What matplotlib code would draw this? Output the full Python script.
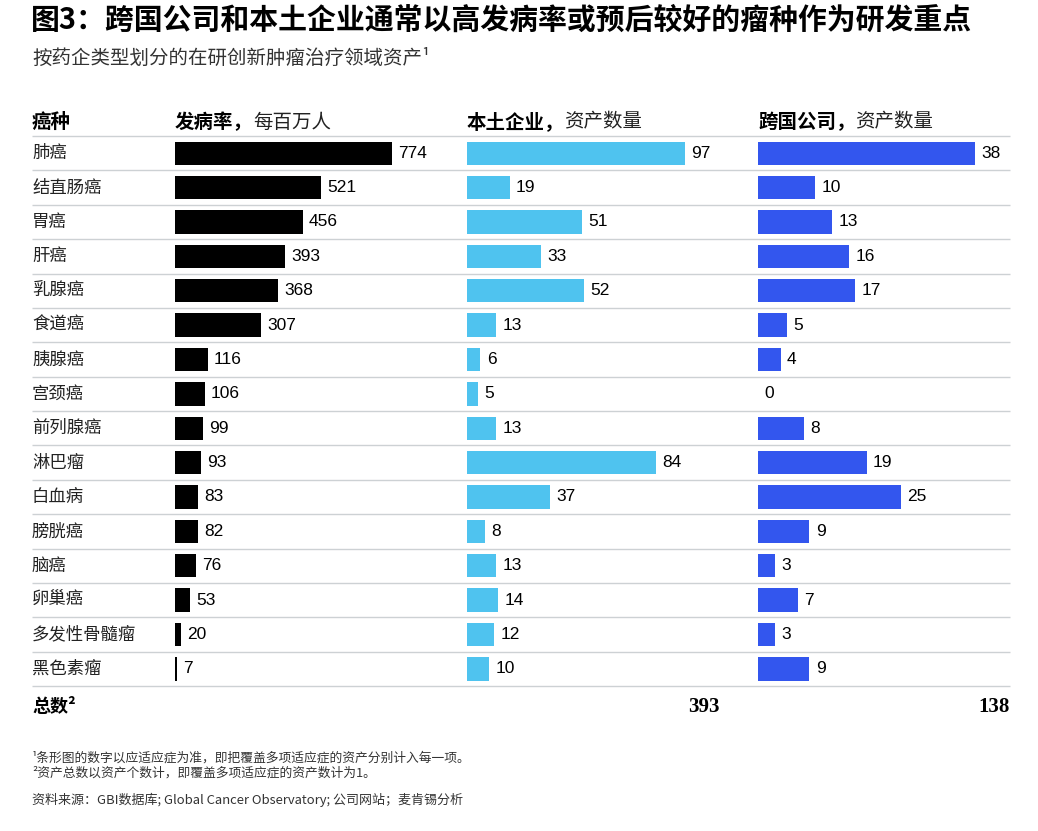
import numpy as np
import matplotlib.pyplot as plt

plt.rcParams['font.family'] = ['Noto Sans CJK SC', 'DejaVu Sans']

# data
cancers = ['肺癌', '结直肠癌', '胃癌', '肝癌', '乳腺癌', '食道癌', '胰腺癌', '宫颈癌',
           '前列腺癌', '淋巴瘤', '白血病', '膀胱癌', '脑癌', '卵巢癌', '多发性骨髓瘤', '黑色素瘤']
incidence = [774, 521, 456, 393, 368, 307, 116, 106, 99, 93, 83, 82, 76, 53, 20, 7]
local_assets = [97, 19, 51, 33, 52, 13, 6, 5, 13, 84, 37, 8, 13, 14, 12, 10]
mnc_assets = [38, 10, 13, 16, 17, 5, 4, 0, 8, 19, 25, 9, 3, 7, 3, 9]
totals = ['393', '138']

title = '图3：跨国公司和本土企业通常以高发病率或预后较好的瘤种作为研发重点'
subtitle = '按药企类型划分的在研创新肿瘤治疗领域资产¹'
headers = [('发病率，', '每百万人'), ('本土企业，', '资产数量'), ('跨国公司，', '资产数量')]
notes = ['¹条形图的数字以应适应症为准，即把覆盖多项适应症的资产分别计入每一项。',
         '²资产总数以资产个数计，即覆盖多项适应症的资产数计为1。']
source = '资料来源：GBI数据库; Global Cancer Observatory; 公司网站；麦肯锡分析'

W, H = 1038, 831
fig = plt.figure(figsize=(W / 100, H / 100), dpi=100, facecolor='white')

def fx(x):
    return x / W

def fy(y):
    return 1 - y / H

n = len(cancers)
top, bot = 136, 686
ax_b = fy(bot)
ax_h = (bot - top) / H

# background with row lines and labels
bg = fig.add_axes([fx(32), ax_b, fx(978), ax_h])
bg.set_xlim(0, 1)
bg.set_ylim(n - 0.5, -0.5)
bg.axis('off')
bg.hlines(np.arange(-0.5, n), 0, 1, color='#cdd1d4', linewidth=1.0, clip_on=False)
for i, c in enumerate(cancers):
    bg.text(0, i, c, va='center', ha='left', fontsize=12.5, color='#222222')

# bar columns: (left px, width px, px per unit, values, colour)
cols = [
    (175, 285, 217 / 774, incidence, '#000000'),
    (467, 283, 218 / 97, local_assets, '#4fc3ef'),
    (758, 252, 217 / 38, mnc_assets, '#3356ee'),
]
for left, width, scale, vals, color in cols:
    ax = fig.add_axes([fx(left), ax_b, fx(width), ax_h])
    ax.patch.set_visible(False)
    ax.set_xlim(0, width / scale)
    ax.set_ylim(n - 0.5, -0.5)
    ax.axis('off')
    ax.barh(np.arange(n), vals, height=0.68, color=color)
    for i, v in enumerate(vals):
        ax.annotate(str(v), xy=(v, i), xytext=(4.5, 0), textcoords='offset points',
                    va='center', ha='left', fontsize=12.5, family='Liberation Sans')

# headers
hy = fy(122)
fig.text(fx(32), hy, '癌种', fontsize=14, fontweight='bold', va='center')
for (bold, light), x in zip(headers, [175, 467, 758]):
    t = fig.text(fx(x), hy, bold, fontsize=14, fontweight='bold', va='center')
    fig.canvas.draw()
    bb = t.get_window_extent()
    fig.text(bb.x1 / W, hy, light, fontsize=14, va='center', color='#222222')

# title and subtitle
fig.text(fx(31), fy(20), title, fontsize=20.8, fontweight='bold', va='center')
fig.text(fx(32), fy(58), subtitle, fontsize=14, va='center', color='#333333')

# totals
fig.text(fx(32), fy(707), '总数²', fontsize=13, fontweight='bold', va='center')
for s, x in zip(totals, [720, 1010]):
    fig.text(fx(x), fy(707), s, fontsize=15, fontweight='bold', va='center', ha='right',
             family='Liberation Serif')

# footnotes
for s, y in zip(notes, [758, 773]):
    fig.text(fx(32), fy(y), s, fontsize=9.2, va='center', color='#333333')
fig.text(fx(32), fy(800), source, fontsize=9.4, va='center', color='#333333')

fig.savefig('out.png', dpi=100, facecolor='white')
